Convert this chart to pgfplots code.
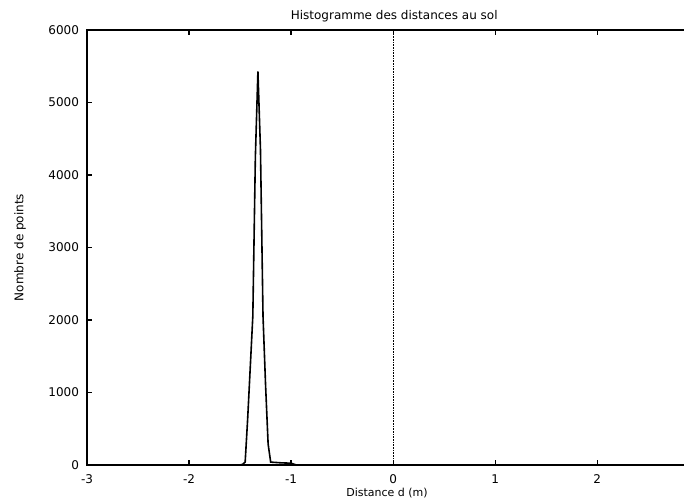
\documentclass[border=0pt]{standalone}
\usepackage{fontspec}
\setmainfont{DejaVu Sans}
\usepackage{pgfplots}
\pgfplotsset{compat=1.18}

\begin{document}
\begin{tikzpicture}
\begin{axis}[
  scale only axis,
  width=600pt, height=435pt,
  xmin=-3, xmax=2.88,
  ymin=0, ymax=6000,
  xtick={-3,-2,-1,0,1,2},
  ytick={0,1000,2000,3000,4000,5000,6000},
  scaled y ticks=false,
  /pgf/number format/1000 sep={},
  /pgf/number format/assume math mode=true,
  xtick pos=both,
  ytick pos=left,
  axis line style={line width=1.6pt},
  every tick/.style={black, line width=1.2pt},
  major tick length=5pt,
  tick align=inside,
  ticklabel style={font=\fontsize{12}{14}\selectfont},
  yticklabel style={xshift=-4.5pt},
  xticklabel style={yshift=-6pt},
  title={Histogramme des distances au sol},
  title style={font=\fontsize{12}{14}\selectfont, at={(axis description cs:0.512,1.011)}, anchor=base},
  xlabel={Distance d (m)},
  xlabel style={font=\fontsize{11}{13}\selectfont, at={(axis description cs:0.5,-0.072)}, anchor=base},
  ylabel={Nombre de points},
  ylabel style={font=\fontsize{12}{14}\selectfont, at={(axis description cs:-0.1117,0.5)}, anchor=center},
  clip=false,
]
% zero axis
\addplot[black, densely dotted, line width=0.6pt] coordinates {(0,0) (0,6000)};
% histogram
\addplot[black, line width=1.6pt] coordinates {
(-3.00,0)
(-1.50,0)
(-1.475,10)
(-1.45,40)
(-1.425,650)
(-1.40,1350)
(-1.375,2050)
(-1.35,4250)
(-1.325,5430)
(-1.30,4350)
(-1.275,2050)
(-1.25,1100)
(-1.225,290)
(-1.20,40)
(-1.10,30)
(-1.00,25)
(-0.95,0)
(2.88,0)
};
\end{axis}
\pgfresetboundingbox
\useasboundingbox (-87pt,-38pt) rectangle (597pt,465pt);
\end{tikzpicture}
\end{document}
